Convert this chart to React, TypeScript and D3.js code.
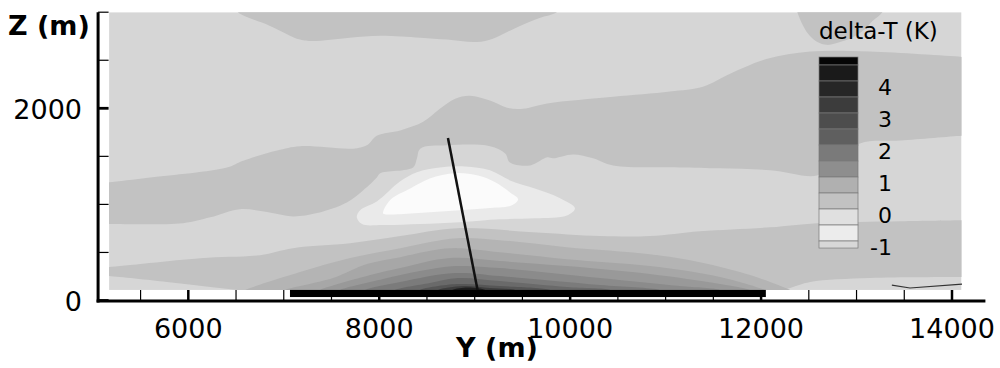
import React, { useEffect, useRef } from "react";
import * as d3 from "d3";

// plotted field extent (m)
const fieldY = [5170, 14100];
const fieldZ = [110, 3000];

// axis ticks
const yTicksMajor = [6000, 8000, 10000, 12000, 14000];
const yTicksMinor = [5500, 6000, 6500, 7000, 7500, 8000, 8500, 9000, 9500, 10000, 10500, 11000, 11500, 12000, 12500, 13000, 13500, 14000];
const zTicksMajor = [0, 2000];
const zTicksMinor = [0, 500, 1000, 1500, 2000, 2500, 3000];

// delta-T contour boundaries, [Y (m), Z (m)]
// 0 .. 0.5 K patches
const topBlobA = [[6450, 3100], [6520, 3000], [6850, 2860], [7170, 2715], [7300, 2700], [7690, 2735], [8010, 2755], [8430, 2735], [8710, 2715], [9020, 2690], [9190, 2725], [9340, 2795], [9480, 2860], [9680, 2940], [9860, 3000], [9950, 3100]];
const topBlobB = [[12350, 3100], [12380, 3000], [12440, 2860], [12510, 2755], [12590, 2690], [12690, 2660], [12860, 2700], [12990, 2755], [13090, 2825], [13170, 2910], [13270, 3000], [13300, 3100]];
const midTop = [[5100, 1225], [5170, 1230], [5600, 1280], [6405, 1385], [6575, 1455], [6930, 1560], [7170, 1605], [7725, 1580], [7870, 1615], [7975, 1715], [8220, 1770], [8460, 1860], [8635, 1995], [8795, 2100], [8950, 2130], [9160, 2080], [9340, 2005], [9505, 1995], [9760, 2050], [10450, 2120], [11045, 2175], [11390, 2225], [11675, 2360], [12065, 2515], [12515, 2590], [13140, 2590], [14105, 2535], [14200, 2530]];
const midBottom = [[5100, 795], [5170, 795], [5945, 805], [6230, 865], [6540, 950], [6825, 920], [7095, 875], [7350, 910], [7660, 1020], [7830, 1145], [7975, 1280], [8010, 1325], [8355, 1385], [8395, 1480], [8430, 1580], [8710, 1615], [9160, 1605], [9320, 1530], [9370, 1435], [9580, 1405], [9760, 1490], [9820, 1480], [10030, 1520], [10240, 1480], [10450, 1405], [11150, 1385], [11570, 1375], [12095, 1355], [12585, 1300], [12725, 1405], [13035, 1635], [13460, 1665], [14105, 1715], [14200, 1720]];
const lowTop = [[5100, 345], [5170, 348], [6125, 440], [6750, 472], [7095, 545], [7695, 595], [8220, 670], [8815, 752], [9610, 710], [10315, 670], [10835, 670], [11360, 720], [12095, 762], [12585, 805], [13460, 825], [14105, 835], [14200, 836]];
const lowBottom = [[5100, 258], [5170, 254], [5775, 192], [6230, 140], [6600, 100], [7000, 60], [12000, 60], [12200, 100], [12305, 130], [12515, 192], [13140, 233], [14105, 244], [14200, 245]];
// below -0.5 K and below -1 K
const coolRing = [[7765, 865], [7800, 940], [7975, 1030], [8220, 1240], [8395, 1335], [8635, 1385], [8900, 1395], [9160, 1355], [9370, 1250], [9630, 1165], [9895, 1065], [10050, 960], [9965, 885], [9630, 855], [9265, 845], [8845, 815], [8425, 795], [8040, 785], [7820, 795]];
const coolCore = [[8040, 908], [8115, 1045], [8325, 1165], [8530, 1270], [8795, 1325], [9035, 1300], [9215, 1230], [9370, 1125], [9455, 1055], [9390, 990], [9130, 960], [8845, 940], [8530, 918], [8220, 898], [8060, 898]];
// warm dome over the city: 0.5, 1.0 ... 4.5 K
const dT05 = [[6560, 90], [6595, 110], [7170, 296], [7695, 441], [8220, 545], [8815, 648], [9265, 628], [9965, 555], [10835, 482], [11360, 399], [11885, 265], [12305, 110], [12340, 90]];
const dT10 = [[6980, 90], [7015, 110], [7515, 233], [7870, 379], [8220, 451], [8565, 524], [8815, 545], [9265, 503], [9965, 430], [10835, 358], [11570, 244], [12040, 110], [12080, 90]];
const dT15 = [[7350, 90], [7380, 110], [7870, 254], [8220, 337], [8740, 441], [9265, 410], [9965, 358], [10835, 275], [11570, 171], [11885, 110], [11920, 90]];
const dT20 = [[7560, 90], [7590, 110], [8040, 223], [8425, 306], [8795, 358], [9265, 337], [10315, 233], [11150, 150], [11570, 110], [11600, 90]];
const dT25 = [[7820, 90], [7850, 110], [8220, 192], [8795, 285], [9265, 254], [10315, 161], [10940, 110], [10980, 90]];
const dT30 = [[8140, 90], [8165, 110], [8530, 182], [8825, 233], [9265, 202], [9965, 140], [10420, 110], [10450, 90]];
const dT35 = [[8400, 90], [8425, 110], [8815, 171], [9265, 150], [9790, 110], [9820, 90]];
const dT40 = [[8590, 90], [8615, 110], [8880, 150], [9160, 130], [9425, 110], [9450, 90]];
const dT45 = [[8740, 90], [8765, 110], [8930, 135], [9110, 110], [9130, 90]];
const domes = [dT05, dT10, dT15, dT20, dT25, dT30, dT35, dT40, dT45];
const domeFill = ["#b4b4b4", "#a7a7a7", "#999999", "#8b8b8b", "#7b7b7b", "#6a6a6a", "#565656", "#3e3e3e", "#1e1e1e"];

// city strip, slanted line and small ridge at ground
const cityY = [7065, 12050];
const cityZ = [36, 110];
const slant = [[9030, 110], [8720, 1690]];
const ridge = [[13370, 160], [13560, 130], [14105, 170]];

// legend
const legendStops = [4.75, 4.5, 4, 3.5, 3, 2.5, 2, 1.5, 1, 0.5, 0, -0.5, -1, -1.22];
const legendFill = ["#050505", "#1a1a1a", "#262626", "#3c3c3c", "#4d4d4d", "#5f5f5f", "#7a7a7a", "#8e8e8e", "#b0b0b0", "#c2c2c2", "#e0e0e0", "#ececec", "#d8d8d8"];
const legendLabels = [4, 3, 2, 1, 0, -1];

const FONT = "DejaVu Sans, Verdana, sans-serif";

const App = () => {
  const chartRef = useRef<SVGSVGElement>(null);

  useEffect(() => {
    const svg = d3.select(chartRef.current);
    svg.selectAll("*").remove();

    const x = d3.scaleLinear().domain([6000, 14000]).range([188.3, 952]);
    const y = d3.scaleLinear().domain([0, 2000]).range([300.5, 108.3]);

    const line = d3
      .line<number[]>()
      .x((d) => x(d[0]))
      .y((d) => y(d[1]))
      .curve(d3.curveCatmullRom.alpha(0.5));
    const loop = d3
      .line<number[]>()
      .x((d) => x(d[0]))
      .y((d) => y(d[1]))
      .curve(d3.curveCatmullRomClosed.alpha(0.5));
    const band = (top: number[][], bottom: number[][]) =>
      line(top) + (line(bottom.slice().reverse()) as string).replace("M", "L") + "Z";

    svg
      .append("defs")
      .append("clipPath")
      .attr("id", "field")
      .append("rect")
      .attr("x", x(fieldY[0]))
      .attr("y", y(fieldZ[1]))
      .attr("width", x(fieldY[1]) - x(fieldY[0]))
      .attr("height", y(fieldZ[0]) - y(fieldZ[1]));

    const g = svg.append("g").attr("clip-path", "url(#field)");

    g.append("rect")
      .attr("x", x(fieldY[0]))
      .attr("y", y(fieldZ[1]))
      .attr("width", x(fieldY[1]) - x(fieldY[0]))
      .attr("height", y(fieldZ[0]) - y(fieldZ[1]))
      .attr("fill", "#d6d6d6");

    [topBlobA, topBlobB].forEach((p) =>
      g.append("path").attr("d", line(p) + "Z").attr("fill", "#c2c2c2")
    );
    g.append("path").attr("d", band(midTop, midBottom)).attr("fill", "#c2c2c2");
    g.append("path").attr("d", band(lowTop, lowBottom)).attr("fill", "#c2c2c2");
    g.append("path").attr("d", loop(coolRing)).attr("fill", "#eaeaea");
    g.append("path").attr("d", loop(coolCore)).attr("fill", "#fbfbfb");

    domes.forEach((c, i) =>
      g.append("path").attr("d", line(c) + "Z").attr("fill", domeFill[i])
    );

    // city strip at the ground
    svg
      .append("rect")
      .attr("x", x(cityY[0]))
      .attr("y", y(cityZ[1]))
      .attr("width", x(cityY[1]) - x(cityY[0]))
      .attr("height", y(cityZ[0]) - y(cityZ[1]))
      .attr("fill", "#000");

    const plain = d3.line<number[]>().x((d) => x(d[0])).y((d) => y(d[1]));
    svg.append("path").attr("d", plain(slant)).attr("stroke", "#111").attr("stroke-width", 2.5).attr("fill", "none");
    svg.append("path").attr("d", plain(ridge)).attr("stroke", "#333").attr("stroke-width", 1.2).attr("fill", "none");

    // axes
    const axisX = x(5055);
    const axisY = y(0) + 0.5;
    svg.append("line").attr("x1", axisX).attr("x2", axisX).attr("y1", y(3000)).attr("y2", axisY + 1.5)
      .attr("stroke", "#000").attr("stroke-width", 3);
    svg.append("line").attr("x1", axisX - 1.5).attr("x2", x(14350)).attr("y1", axisY).attr("y2", axisY)
      .attr("stroke", "#000").attr("stroke-width", 3);

    svg.selectAll(".xtick").data(yTicksMinor).enter().append("line")
      .attr("x1", (d) => x(d)).attr("x2", (d) => x(d))
      .attr("y1", axisY).attr("y2", axisY - 11)
      .attr("stroke", "#000")
      .attr("stroke-width", (d) => (yTicksMajor.includes(d) ? 2.5 : 1.2));
    svg.selectAll(".ztick").data(zTicksMinor).enter().append("line")
      .attr("x1", axisX).attr("x2", axisX + 10.5)
      .attr("y1", (d) => y(d)).attr("y2", (d) => y(d))
      .attr("stroke", "#000")
      .attr("stroke-width", (d) => (zTicksMajor.includes(d) ? 2.8 : 1.2));

    svg.selectAll(".xlabel").data(yTicksMajor).enter().append("text")
      .attr("x", (d) => x(d)).attr("y", 338)
      .attr("text-anchor", "middle")
      .style("font-family", FONT).style("font-size", "27px")
      .text((d) => d);
    svg.selectAll(".zlabel").data(zTicksMajor).enter().append("text")
      .attr("x", 82).attr("y", (d) => y(d) + 10.5)
      .attr("text-anchor", "end")
      .style("font-family", FONT).style("font-size", "27px")
      .text((d) => d);

    svg.append("text").attr("x", 8).attr("y", 35)
      .style("font-family", FONT).style("font-size", "27px").style("font-weight", "bold")
      .text("Z (m)");
    svg.append("text").attr("x", 497).attr("y", 357).attr("text-anchor", "middle")
      .style("font-family", FONT).style("font-size", "27px").style("font-weight", "bold")
      .text("Y (m)");

    // legend
    const ly = d3.scaleLinear().domain([-1, 4.5]).range([241, 65]);
    const legend = svg.append("g");
    legend.append("text").attr("x", 819).attr("y", 39)
      .style("font-family", FONT).style("font-size", "23px")
      .text("delta-T (K)");
    legend.selectAll("rect").data(legendFill).enter().append("rect")
      .attr("x", 819).attr("width", 39)
      .attr("y", (d, i) => ly(legendStops[i]))
      .attr("height", (d, i) => ly(legendStops[i + 1]) - ly(legendStops[i]))
      .attr("fill", (d) => d)
      .attr("stroke", "#7a7a7a").attr("stroke-width", 0.7);
    legend.selectAll("text.lab").data(legendLabels).enter().append("text")
      .attr("class", "lab")
      .attr("x", 892).attr("y", (d) => ly(d) + 14)
      .attr("text-anchor", "end")
      .style("font-family", FONT).style("font-size", "22px")
      .text((d) => d);
  }, []);

  return (
    <svg
      ref={chartRef}
      width={1000}
      height={368}
      style={{ position: "absolute", left: 0, top: 0, background: "#fff" }}
    />
  );
};

export default App;
